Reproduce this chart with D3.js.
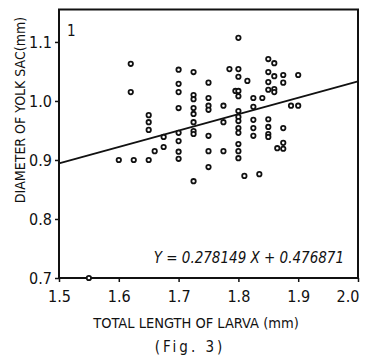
<!DOCTYPE html>
<html>
<head>
<meta charset="utf-8">
<script src="https://cdn.jsdelivr.net/npm/d3@7"></script>
<style>
  body { margin: 0; background: #fff; }
  svg text { font-family: 'Liberation Sans Narrow', 'DejaVu Sans Condensed', 'Liberation Sans', sans-serif; fill: #111; }
</style>
</head>
<body>
<div id="chart"></div>
<script>
// total length of larva (mm) per fish
const totalLength = [
  1.55, 1.60, 1.62, 1.62, 1.625, 1.65, 1.65, 1.65, 1.65, 1.66, 1.675, 1.675,
  1.70, 1.70, 1.70, 1.70, 1.70, 1.70, 1.70, 1.70,
  1.725, 1.725, 1.725, 1.725, 1.725, 1.725, 1.725, 1.725, 1.725,
  1.75, 1.75, 1.75, 1.75, 1.75, 1.75, 1.75,
  1.775, 1.775, 1.775, 1.785,
  1.80, 1.80, 1.80, 1.80, 1.80, 1.80, 1.80, 1.80, 1.80, 1.80, 1.80, 1.80,
  1.795, 1.80, 1.81, 1.815,
  1.825, 1.825, 1.825, 1.825, 1.825, 1.835, 1.84,
  1.85, 1.85, 1.85, 1.85, 1.85, 1.85, 1.85, 1.85,
  1.86, 1.86, 1.86, 1.86, 1.865,
  1.875, 1.875, 1.875, 1.875, 1.875, 1.888, 1.90, 1.90,
];

// diameter of yolk sac (mm), same order
const yolkDiameter = [
  0.70, 0.90, 1.063, 1.015, 0.90, 0.90, 0.976, 0.964, 0.951, 0.915, 0.939, 0.922,
  1.053, 1.029, 1.015, 0.988, 0.946, 0.932, 0.914, 0.902,
  1.049, 1.010, 1.003, 0.988, 0.978, 0.964, 0.949, 0.944, 0.864,
  1.031, 1.005, 0.992, 0.985, 0.941, 0.915, 0.888,
  0.992, 0.964, 0.915, 1.054,
  1.107, 1.054, 1.041, 1.008, 0.983, 0.973, 0.966, 0.954, 0.946, 0.927, 0.915, 0.903,
  1.017, 1.017, 0.873, 1.034,
  1.005, 0.990, 0.968, 0.954, 0.941, 0.876, 1.005,
  1.071, 1.049, 1.032, 1.019, 0.969, 0.956, 0.944, 0.939,
  1.064, 1.042, 1.020, 1.015, 0.920,
  1.044, 1.031, 0.954, 0.929, 0.919, 0.992, 0.992, 1.044,
];

const xTicks = [1.5, 1.6, 1.7, 1.8, 1.9, 2.0];
const yTicks = [0.7, 0.8, 0.9, 1.0, 1.1];

// regression Y = a X + b
const slope = 0.278149;
const intercept = 0.476871;

const width = 367;
const height = 357;

const xScale = d3.scaleLinear().domain([1.5, 2.0]).range([59, 358]);
const yScale = d3.scaleLinear().domain([0.7, 1.155]).range([278, 9.5]);

const svg = d3
  .select('#chart')
  .append('svg')
  .attr('width', width)
  .attr('height', height);

// frame
svg
  .append('rect')
  .attr('x', xScale(1.5))
  .attr('y', yScale(1.155))
  .attr('width', xScale(2.0) - xScale(1.5))
  .attr('height', yScale(0.7) - yScale(1.155))
  .attr('fill', 'none')
  .attr('stroke', '#111')
  .attr('stroke-width', 2);

const xAxis = (g) => {
  g.attr('transform', `translate(0, ${yScale(0.7)})`).call(
    d3.axisBottom(xScale).tickValues(xTicks).tickSize(4).tickFormat(d3.format('.1f')),
  );
};

const yAxis = (g) => {
  g.attr('transform', `translate(${xScale(1.5)}, 0)`).call(
    d3.axisLeft(yScale).tickValues(yTicks).tickSize(4).tickFormat(d3.format('.1f')),
  );
};

const gx = svg.append('g').call(xAxis);
const gy = svg.append('g').call(yAxis);

svg.selectAll('.domain').remove();
svg.selectAll('.tick line').attr('stroke', '#111').attr('stroke-width', 1.5);
svg.selectAll('.tick text').attr('font-size', 16).attr('fill', '#111')
  .style('font-family', "'Liberation Sans Narrow', 'DejaVu Sans Condensed', sans-serif");
gx.selectAll('.tick text').attr('y', 13);
// keep the last label inside the page, as in the print
gx.selectAll('.tick text')
  .filter((d) => d === 2.0)
  .attr('text-anchor', 'end')
  .attr('x', 1);

// regression line
svg
  .append('path')
  .datum([1.5, 2.0])
  .attr('fill', 'none')
  .attr('stroke', '#111')
  .attr('stroke-width', 1.8)
  .attr(
    'd',
    d3
      .line()
      .x((d) => xScale(d))
      .y((d) => yScale(slope * d + intercept)),
  );

// points
svg
  .append('g')
  .selectAll('circle')
  .data(totalLength.map((x, i) => [x, yolkDiameter[i]]))
  .enter()
  .append('circle')
  .attr('cx', (d) => xScale(d[0]))
  .attr('cy', (d) => yScale(d[1]))
  .attr('r', 2.2)
  .attr('fill', '#fff')
  .attr('stroke', '#111')
  .attr('stroke-width', 1.8);

svg
  .append('text')
  .attr('x', 67)
  .attr('y', 36)
  .attr('font-size', 15)
  .text('1');

svg
  .append('text')
  .attr('text-anchor', 'end')
  .attr('x', 344)
  .attr('y', 263)
  .attr('font-size', 15)
  .attr('font-style', 'italic')
  .text('Y = 0.278149 X + 0.476871');

svg
  .append('text')
  .attr('text-anchor', 'middle')
  .attr('x', -110)
  .attr('y', 25)
  .attr('transform', 'rotate(-90)')
  .attr('font-size', 14)
  .text('DIAMETER OF YOLK SAC(mm)');

svg
  .append('text')
  .attr('text-anchor', 'middle')
  .attr('x', 196)
  .attr('y', 328)
  .attr('font-size', 14.5)
  .text('TOTAL LENGTH OF LARVA (mm)');

svg
  .append('text')
  .attr('text-anchor', 'middle')
  .attr('x', 190)
  .attr('y', 352)
  .attr('font-size', 15)
  .attr('letter-spacing', 3)
  .text('(Fig. 3)');
</script>
</body>
</html>
